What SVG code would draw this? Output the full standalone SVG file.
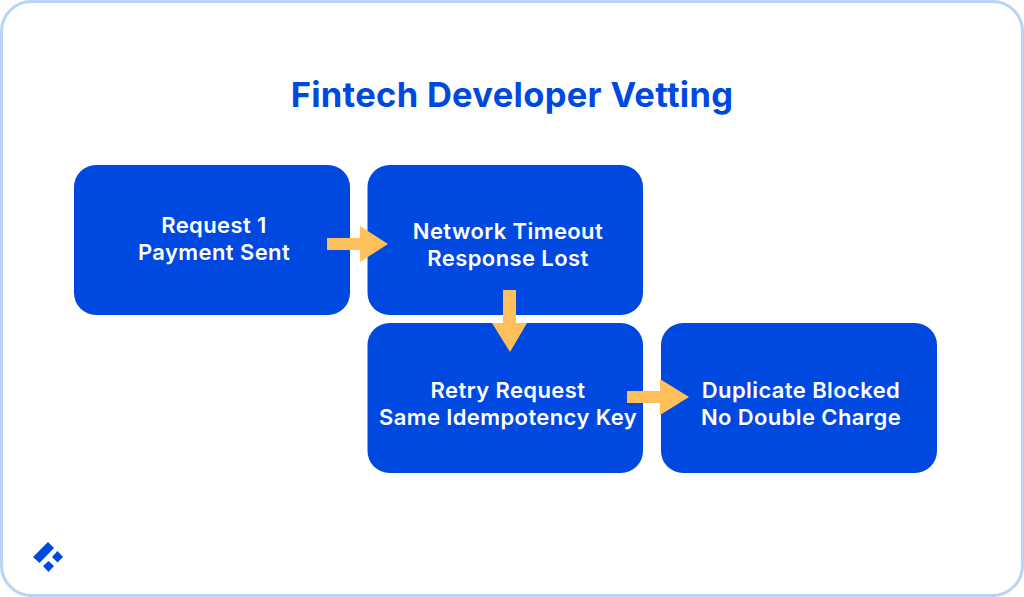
<svg xmlns="http://www.w3.org/2000/svg" width="1024" height="597" viewBox="0 0 1024 597">
<style>
.box{fill:#0049E0}
.t{font-family:"Inter","Liberation Sans",sans-serif;font-weight:600;font-size:22px;letter-spacing:.4px;fill:#fff;text-anchor:middle}
.a{fill:#FFC05C}
</style>
<rect width="1024" height="597" fill="#fff"/>
<rect x="1.5" y="1.5" width="1021" height="594" rx="30" fill="#fff" stroke="#B7D3F6" stroke-width="3"/>
<text x="512" y="107" text-anchor="middle" font-family="Inter,'Liberation Sans',sans-serif" font-weight="700" font-size="34.5" letter-spacing=".3" fill="#0049E0">Fintech Developer Vetting</text>
<g id="n1"><rect class="box" x="74" y="165" width="276" height="150" rx="22"/><text class="t" x="214" y="233">Request 1</text><text class="t" x="214" y="260">Payment Sent</text></g>
<g id="n2"><rect class="box" x="367.500" y="165" width="275.500" height="150" rx="22"/><text class="t" x="508" y="239">Network Timeout</text><text class="t" x="508" y="266">Response Lost</text></g>
<g id="n3"><rect class="box" x="367.500" y="323" width="275.500" height="150" rx="22"/><text class="t" x="508" y="398">Retry Request</text><text class="t" x="508" y="425">Same Idempotency Key</text></g>
<g id="n4"><rect class="box" x="661" y="323" width="276" height="150" rx="22"/><text class="t" x="801" y="398">Duplicate Blocked</text><text class="t" x="801" y="425">No Double Charge</text></g>
<g id="connectors">
<polygon class="a" points="327,238 360,238 360,226 388,244 360,262 360,250 327,250"/>
<polygon class="a" points="503,290 516,290 516,323 527,323 510,352 492,323 503,323"/>
<polygon class="a" points="627,391 660,391 660,379 689,397 660,415 660,403 627,403"/>
</g>
<g id="logo" fill="#0049E0">
<polygon points="33,557 48,542 54,548 39.500,563"/>
<polygon points="52,557 57.500,551 63,557 57.500,562.500"/>
<polygon points="43,566 48.500,561 54,566 48.500,572"/>
</g>
</svg>
